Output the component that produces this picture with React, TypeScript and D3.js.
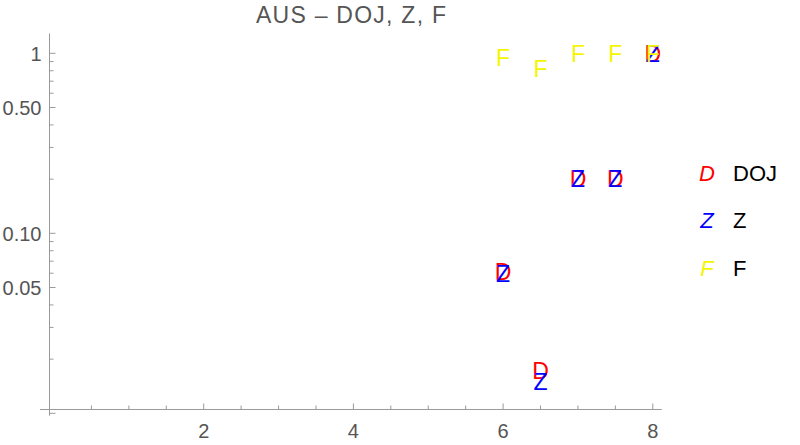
import React from "react";
import * as d3 from "d3";

const title = "AUS \u2013 DOJ, Z, F";
const xValues = [6, 6.5, 7, 7.5, 8];
const dojValues = [0.061, 0.0172, 0.2, 0.2, 1];
const zValues = [0.06, 0.015, 0.2, 0.2, 1];
const fValues = [0.95, 0.82, 1, 1, 1];
const seriesNames = ["DOJ", "Z", "F"];
const seriesMarkers = ["D", "Z", "F"];
const seriesColors = ["#ff0000", "#0000ff", "#f5f500"];
const xMajorTicks = [2, 4, 6, 8];
const yMajorTicks = [1, 0.5, 0.1, 0.05];
const yMajorLabels = ["1", "0.50", "0.10", "0.05"];
const yMinorTicks = [0.02, 0.03, 0.04, 0.06, 0.07, 0.08, 0.09, 0.2, 0.3, 0.4, 0.6, 0.7, 0.8, 0.9];

const W = 800;
const H = 445;

export default function App() {
  const x = d3.scaleLinear().domain([0, 8]).range([54, 652.8]);
  const y = d3.scaleLog().domain([1, 0.01]).range([53.3, 413.3]);
  const seriesValues = [dojValues, zValues, fValues];

  const axisX = x(-0.06);
  const axisY = y(0.0105);
  const yTop = y(1.29);
  const yBottom = y(0.0097);
  const xLeft = 40;
  const xRight = x(8.12);

  const xMinor = d3.range(0.5, 8.01, 0.5).filter((v) => !xMajorTicks.includes(v));
  const axisColor = "#9a9a9a";
  const labelColor = "#555555";
  const font = "'Liberation Sans', Arial, sans-serif";

  return (
    <svg
      width={W}
      height={H}
      style={{ position: "absolute", left: 0, top: 0, background: "#fff" }}
      fontFamily={font}
    >
      <rect x={0} y={0} width={W} height={H} fill="#fff" />
      {/* title */}
      <text
        x={351}
        y={23}
        textAnchor="middle"
        fontSize={23}
        fill={labelColor}
        textLength={190}
        lengthAdjust="spacing"
      >
        {title}
      </text>

      {/* axes */}
      <line x1={axisX} x2={axisX} y1={yTop} y2={yBottom} stroke={axisColor} strokeWidth={1} />
      <line x1={xLeft} x2={xRight} y1={axisY} y2={axisY} stroke={axisColor} strokeWidth={1} />

      {/* y ticks */}
      {yMajorTicks.map((v, i) => (
        <g key={"ym" + i}>
          <line x1={axisX} x2={axisX + 6} y1={y(v)} y2={y(v)} stroke={axisColor} />
          <text x={axisX - 8} y={y(v)} dy="0.36em" textAnchor="end" fontSize={20} fill={labelColor}>
            {yMajorLabels[i]}
          </text>
        </g>
      ))}
      <line x1={axisX} x2={axisX + 6} y1={y(0.01)} y2={y(0.01)} stroke={axisColor} />
      {yMinorTicks.map((v, i) => (
        <line key={"yn" + i} x1={axisX} x2={axisX + 4} y1={y(v)} y2={y(v)} stroke={axisColor} />
      ))}

      {/* x ticks */}
      {xMajorTicks.map((v, i) => (
        <g key={"xm" + i}>
          <line x1={x(v)} x2={x(v)} y1={axisY} y2={axisY - 6} stroke={axisColor} />
          <text x={x(v)} y={438} textAnchor="middle" fontSize={20} fill={labelColor}>
            {v}
          </text>
        </g>
      ))}
      {xMinor.map((v, i) => (
        <line key={"xn" + i} x1={x(v)} x2={x(v)} y1={axisY} y2={axisY - 4} stroke={axisColor} />
      ))}

      {/* data markers */}
      {seriesValues.map((vals, si) => (
        <g key={"s" + si}>
          {vals.map((v, i) => (
            <text
              key={i}
              x={x(xValues[i])}
              y={y(v)}
              dy="0.36em"
              textAnchor="middle"
              fontSize={23}
              fill={seriesColors[si]}
            >
              {seriesMarkers[si]}
            </text>
          ))}
        </g>
      ))}

      {/* legend */}
      {seriesNames.map((name, i) => (
        <g key={"lg" + i} transform={`translate(0, ${173 + i * 47.5})`}>
          <text x={707} y={0} dy="0.36em" textAnchor="middle" fontSize={22} fontStyle="italic" fill={seriesColors[i]}>
            {seriesMarkers[i]}
          </text>
          <text x={733} y={0} dy="0.36em" fontSize={22} fill="#000">
            {name}
          </text>
        </g>
      ))}
    </svg>
  );
}
